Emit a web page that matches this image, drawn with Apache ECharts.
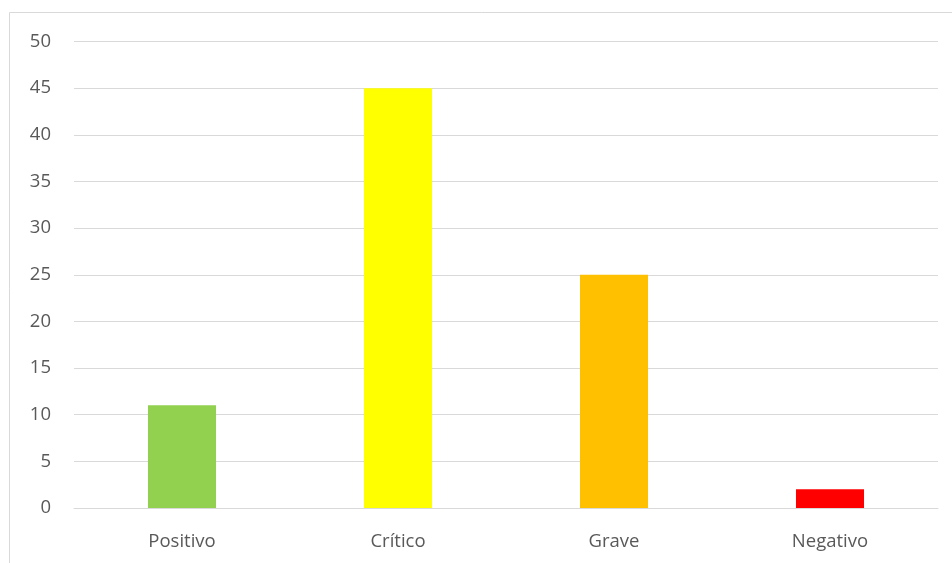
<!DOCTYPE html>
<html>
<head>
<meta charset="utf-8">
<script src="https://cdn.jsdelivr.net/npm/echarts@6/dist/echarts.min.js"></script>
<style>
html, body { margin: 0; padding: 0; background: #fff; }
#chart { width: 952px; height: 563px; }
</style>
</head>
<body>
<div id="chart"></div>
<script>
// Categories and counts
const categories = ['Positivo', 'Crítico', 'Grave', 'Negativo'];
const counts = [11, 45, 25, 2];
const barColors = ['#92D050', '#FFFF00', '#FFC000', '#FF0000'];

const labelFont = '"Open Sans", "Noto Sans", sans-serif';

const chart = echarts.init(document.getElementById('chart'));
chart.setOption({
  animation: false,
  backgroundColor: '#ffffff',
  graphic: [{
    type: 'rect',
    shape: { x: 9.5, y: 12.5, width: 1000, height: 600 },
    style: { fill: 'none', stroke: '#d9d9d9', lineWidth: 1 },
    silent: true
  }],
  grid: { left: 74, right: 14, top: 41.5, bottom: 55 },
  xAxis: {
    type: 'category',
    data: categories,
    axisLine: { show: true, lineStyle: { color: '#d9d9d9', width: 1 } },
    axisTick: { show: false },
    axisLabel: {
      color: '#595959',
      fontSize: 18.5,
      fontFamily: labelFont,
      margin: 24
    }
  },
  yAxis: {
    type: 'value',
    min: 0,
    max: 50,
    interval: 5,
    axisLine: { show: false },
    axisTick: { show: false },
    splitLine: { lineStyle: { color: '#d9d9d9', width: 1 } },
    axisLabel: {
      color: '#595959',
      fontSize: 18.5,
      fontFamily: labelFont,
      margin: 23
    }
  },
  series: [{
    type: 'bar',
    barWidth: '31.5%',
    data: counts.map((v, i) => ({ value: v, itemStyle: { color: barColors[i] } }))
  }]
});
</script>
</body>
</html>
